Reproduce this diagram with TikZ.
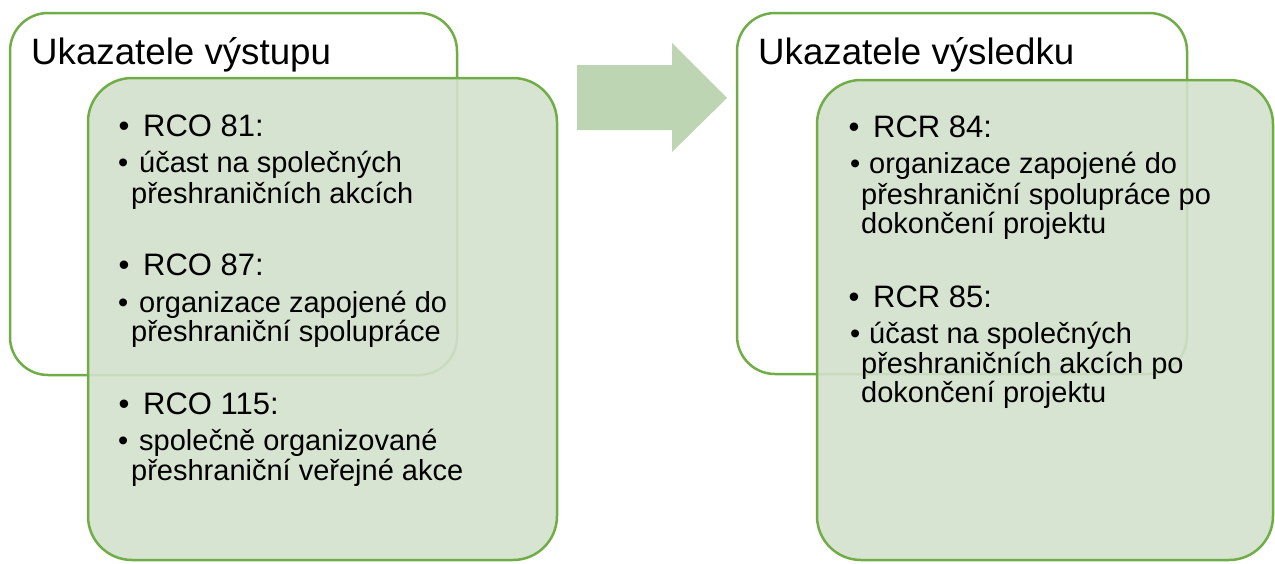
\documentclass[tikz,border=0pt]{standalone}
\usepackage{fontspec}
\setmainfont{Liberation Sans}
\definecolor{gborder}{RGB}{112,173,71}
\definecolor{gfill}{RGB}{211,225,204}
\definecolor{garrow}{RGB}{189,213,178}
\tikzset{
  outerbox/.style={draw=gborder, line width=2.5pt, rounded corners=38pt, fill=white},
  innerbox/.style={draw=gborder, line width=2.5pt, rounded corners=44pt, fill=gfill, fill opacity=0.9, draw opacity=1},
  head/.style={anchor=base west, inner sep=0pt, font=\fontsize{36.7}{44}\selectfont},
  mainitem/.style={anchor=base west, inner sep=0pt, font=\fontsize{31}{37}\selectfont},
  subitem/.style={anchor=base west, inner sep=0pt, font=\fontsize{29}{34}\selectfont},
}
\begin{document}
\begin{tikzpicture}[x=1pt,y=-1pt]
\useasboundingbox (0,0) rectangle (1275,563);
% left group
\draw[outerbox] (10,13) rectangle (457,375);
\draw[innerbox] (88,78) rectangle (557,560);
% right group
\draw[outerbox] (737,13) rectangle (1187,374);
\draw[innerbox] (817,80) rectangle (1273,560);
% block arrow
\fill[garrow] (577,65) -- (672,65) -- (672,43) -- (727,98) -- (672,152) -- (672,130) -- (577,130) -- cycle;
% left texts
\node[head] (hl) at (31,64) {Ukazatele výstupu};
\node[mainitem] (bl1) at (118.5,136) {•};
\node[mainitem] (l1) at (143,136) {RCO 81:};
\node[subitem] (sbl1) at (118,172) {•};
\node[subitem] (l1a) at (139,172) {účast na společných};
\node[subitem] (l1b) at (131,203) {přeshraničních akcích};
\node[mainitem] (bl2) at (118.5,275) {•};
\node[mainitem] (l2) at (143,275) {RCO 87:};
\node[subitem] (sbl2) at (118,312) {•};
\node[subitem] (l2a) at (139,312) {organizace zapojené do};
\node[subitem] (l2b) at (131,341) {přeshraniční spolupráce};
\node[mainitem] (bl3) at (118.5,414) {•};
\node[mainitem] (l3) at (143,414) {RCO 115:};
\node[subitem] (sbl3) at (118,450) {•};
\node[subitem] (l3a) at (139,450) {společně organizované};
\node[subitem] (l3b) at (131,480) {přeshraniční veřejné akce};
% right texts
\node[head] (hr) at (758,64) {Ukazatele výsledku};
\node[mainitem] (br1) at (848.5,137) {•};
\node[mainitem] (r1) at (873,137) {RCR 84:};
\node[subitem] (sbr1) at (850,173) {•};
\node[subitem] (r1a) at (869,173) {organizace zapojené do};
\node[subitem] (r1b) at (861,204) {přeshraniční spolupráce po};
\node[subitem] (r1c) at (861,233) {dokončení projektu};
\node[mainitem] (br2) at (848.5,307) {•};
\node[mainitem] (r2) at (873,307) {RCR 85:};
\node[subitem] (sbr2) at (850,343) {•};
\node[subitem] (r2a) at (869,343) {účast na společných};
\node[subitem] (r2b) at (861,373) {přeshraničních akcích po};
\node[subitem] (r2c) at (861,402) {dokončení projektu};
\end{tikzpicture}
\end{document}
